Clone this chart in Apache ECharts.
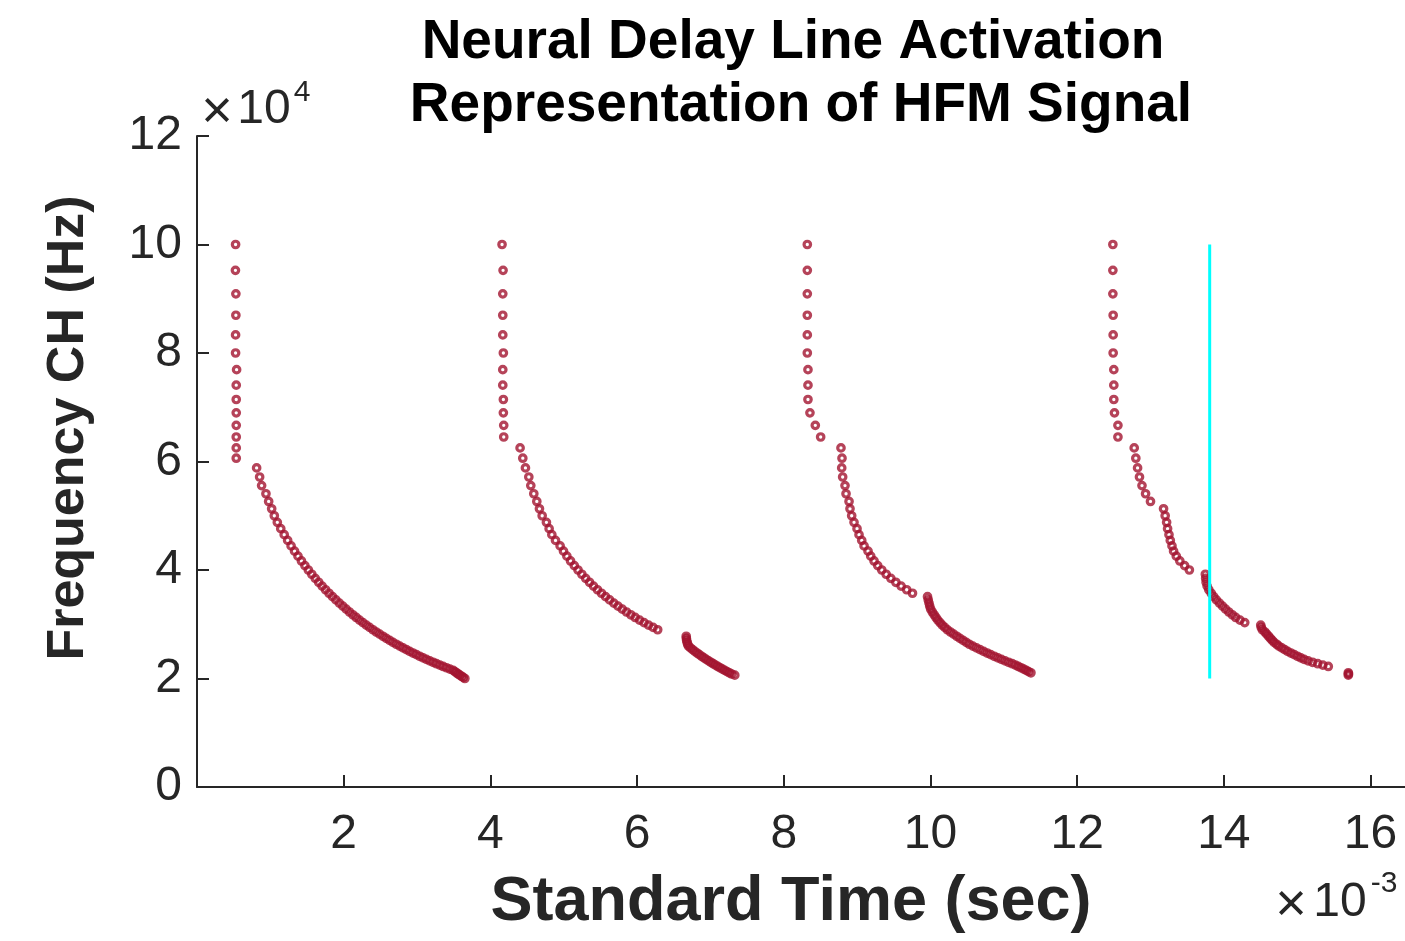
<!DOCTYPE html>
<html>
<head>
<meta charset="utf-8">
<script src="https://cdn.jsdelivr.net/npm/echarts@6/dist/echarts.min.js"></script>
<style>
html,body{margin:0;padding:0;background:#ffffff;}
#chart{width:1405px;height:941px;}
</style>
</head>
<body>
<div id="chart"></div>
<script>
// Channel centre frequencies (Hz)
const channelFreqs = [
 100000, 95238, 90909, 86957, 83333, 80000, 76923, 74074, 71429, 68966,
 66667, 64516, 62500, 60606, 58824, 57143, 55556, 54054, 52632, 51282,
 50000, 48780, 47619, 46512, 45455, 44444, 43478, 42553, 41667, 40816,
 40000, 39216, 38462, 37736, 37037, 36364, 35714, 35088, 34483, 33898,
 33333, 32787, 32258, 31746, 31250, 30769, 30303, 29851, 29412, 28986,
 28571, 28169, 27778, 27397, 27027, 26667, 26316, 25974, 25641, 25316,
 25000, 24691, 24390, 24096, 23810, 23529, 23256, 22989, 22727, 22472,
 22222, 21978, 21739, 21505, 21277, 21053, 20833, 20619, 20408, 20202,
 20000
];

// Activation time (x10^-3 s) of each channel, per pulse; null = no activation
const chirp1Times = [
 0.526, 0.524, 0.530, 0.530, 0.526, 0.526, 0.540, 0.535, 0.535, 0.535,
 0.535, 0.535, 0.535, 0.535, 0.813, 0.854, 0.881, 0.940, 0.977, 1.018,
 1.054, 1.095, 1.142, 1.189, 1.236, 1.283, 1.330, 1.377, 1.424, 1.471,
 1.518, 1.565, 1.612, 1.659, 1.706, 1.753, 1.800, 1.847, 1.894, 1.941,
 1.988, 2.034, 2.079, 2.125, 2.171, 2.216, 2.262, 2.308, 2.353, 2.399,
 2.444, 2.490, 2.536, 2.581, 2.627, 2.672, 2.718, 2.764, 2.809, 2.855,
 2.900, 2.946, 2.992, 3.037, 3.083, 3.128, 3.174, 3.220, 3.265, 3.311,
 3.356, 3.402, 3.448, 3.493, 3.516, 3.539, 3.561, 3.584, 3.607, 3.630,
 3.652
];
const chirp2Times = [
 4.159, 4.173, 4.169, 4.169, 4.169, 4.177, 4.169, 4.169, 4.177, 4.177,
 4.182, 4.182, 4.405, 4.442, 4.478, 4.524, 4.551, 4.592, 4.633, 4.669,
 4.706, 4.764, 4.801, 4.838, 4.888, 4.951, 4.997, 5.043, 5.093, 5.144,
 5.195, 5.247, 5.299, 5.352, 5.406, 5.460, 5.515, 5.570, 5.626, 5.683,
 5.740, 5.798, 5.856, 5.915, 5.974, 6.034, 6.095, 6.156, 6.218, 6.281,
 null, null, 6.670, 6.672, 6.676, 6.682, 6.690, 6.700, 6.728, 6.757,
 6.787, 6.818, 6.849, 6.880, 6.912, 6.943, 6.975, 7.006, 7.038, 7.069,
 7.101, 7.132, 7.164, 7.195, 7.227, 7.258, 7.290, 7.332, null, null,
 null
];
const chirp3Times = [
 8.321, 8.321, 8.321, 8.321, 8.321, 8.321, 8.330, 8.330, 8.330, 8.357,
 8.430, 8.503, 8.780, 8.794, 8.790, 8.803, 8.835, 8.849, 8.890, 8.903,
 8.926, 8.958, 8.999, 9.026, 9.063, 9.095, 9.149, 9.186, 9.231, 9.281,
 9.336, 9.396, 9.460, 9.528, 9.600, 9.676, 9.755, 9.960, 9.970, 9.980,
 9.990, 10.003, 10.025, 10.050, 10.075, 10.100, 10.130, 10.160, 10.195, 10.230,
 10.273, 10.316, 10.359, 10.402, 10.445, 10.488, 10.530, 10.578, 10.627, 10.676,
 10.725, 10.774, 10.822, 10.871, 10.920, 10.968, 11.017, 11.066, 11.115, 11.159,
 11.198, 11.236, 11.272, 11.306, 11.338, 11.370, null, null, null, null,
 null
];
const chirp4Times = [
 12.487, 12.487, 12.487, 12.491, 12.491, 12.491, 12.500, 12.500, 12.500, 12.509,
 12.556, 12.556, 12.778, 12.800, 12.824, 12.850, 12.884, 12.933, 13.000, 13.178,
 13.200, 13.220, 13.233, 13.252, 13.270, 13.293, 13.315, 13.352, 13.400, 13.465,
 13.530, 13.748, 13.752, 13.758, 13.772, 13.795, 13.828, 13.862, 13.898, 13.940,
 13.982, 14.024, 14.068, 14.115, 14.162, 14.220, 14.285, 14.503, 14.510, 14.525,
 14.560, 14.585, 14.610, 14.635, 14.660, 14.685, 14.720, 14.750, 14.790, 14.830,
 14.870, 14.915, 14.960, 15.005, 15.050, 15.095, 15.150, 15.210, 15.280, 15.350,
 15.424, null, null, null, null, 15.697, 15.700, 15.697, null, null,
 null
];

// Vertical cursor line
const cursorTime = [13.807, 13.807];
const cursorFreq = [20000, 100000];

// Tick values
const xTicks = [2, 4, 6, 8, 10, 12, 14, 16];
const yTicks = [0, 20000, 40000, 60000, 80000, 100000, 120000];

function pairs(times) {
  const out = [];
  times.forEach(function (t, i) { if (t !== null) out.push([t, channelFreqs[i]]); });
  return out;
}

const FONT = '"Liberation Sans", Arial, Helvetica, sans-serif';
const AXC = '#262626';
const MARK = '#A2142F';

const scatterBase = {
  type: 'scatter',
  symbol: 'circle',
  symbolSize: 6.5,
  itemStyle: { color: 'rgba(0,0,0,0)', borderColor: MARK, borderWidth: 3.2 },
  emphasis: { disabled: true },
  silent: true,
  z: 2
};

const chart = echarts.init(document.getElementById('chart'), null, { renderer: 'canvas' });
chart.setOption({
  animation: false,
  backgroundColor: '#ffffff',
  grid: { left: 197, right: 0, top: 136, bottom: 154, outerBoundsMode: 'none', containLabel: false },
  xAxis: {
    type: 'value', min: 0, max: 16.47,
    axisLine: { show: true, lineStyle: { color: AXC, width: 2 } },
    axisTick: { show: true, inside: true, length: 12, customValues: xTicks, lineStyle: { color: AXC, width: 2 } },
    axisLabel: { show: true, customValues: xTicks, fontSize: 48, fontFamily: FONT, color: AXC, margin: 24 },
    splitLine: { show: false }
  },
  yAxis: {
    type: 'value', min: 0, max: 120000,
    axisLine: { show: true, lineStyle: { color: AXC, width: 2 } },
    axisTick: { show: true, inside: true, length: 12, customValues: yTicks, lineStyle: { color: AXC, width: 2 } },
    axisLabel: { show: true, customValues: yTicks, fontSize: 48, fontFamily: FONT, color: AXC, margin: 15,
      formatter: function (v) { return String(Math.round(v / 10000)); } },
    splitLine: { show: false }
  },
  series: [
    Object.assign({}, scatterBase, { name: 'pulse1', data: pairs(chirp1Times) }),
    Object.assign({}, scatterBase, { name: 'pulse2', data: pairs(chirp2Times) }),
    Object.assign({}, scatterBase, { name: 'pulse3', data: pairs(chirp3Times) }),
    Object.assign({}, scatterBase, { name: 'pulse4', data: pairs(chirp4Times) }),
    {
      type: 'line', name: 'cursor', silent: true, z: 3,
      data: [[cursorTime[0], cursorFreq[0]], [cursorTime[1], cursorFreq[1]]],
      showSymbol: false, symbol: 'none',
      lineStyle: { color: '#00FFFF', width: 3 }
    }
  ],
  graphic: [
    { type: 'text', x: 793, y: 43, style: { text: 'Neural Delay Line Activation', font: 'bold 55px ' + FONT, fill: '#000', textAlign: 'center', textVerticalAlign: 'middle' } },
    { type: 'text', x: 801, y: 106, style: { text: 'Representation of HFM Signal', font: 'bold 55px ' + FONT, fill: '#000', textAlign: 'center', textVerticalAlign: 'middle' } },
    { type: 'text', x: 791, y: 903, style: { text: 'Standard Time (sec)', font: 'bold 63px ' + FONT, fill: AXC, textAlign: 'center', textVerticalAlign: 'middle' } },
    { type: 'text', x: 69, y: 428, rotation: Math.PI / 2, style: { text: 'Frequency CH (Hz)', font: 'bold 52px ' + FONT, fill: AXC, textAlign: 'center', textVerticalAlign: 'middle' } },
    { type: 'text', x: 217, y: 113, style: { text: '\u00d7', font: '54px ' + FONT, fill: AXC, textAlign: 'center', textVerticalAlign: 'middle' } },
    { type: 'text', x: 264, y: 110, style: { text: '10', font: '48px ' + FONT, fill: AXC, textAlign: 'center', textVerticalAlign: 'middle' } },
    { type: 'text', x: 302, y: 93, style: { text: '4', font: '30px ' + FONT, fill: AXC, textAlign: 'center', textVerticalAlign: 'middle' } },
    { type: 'text', x: 1291, y: 906, style: { text: '\u00d7', font: '54px ' + FONT, fill: AXC, textAlign: 'center', textVerticalAlign: 'middle' } },
    { type: 'text', x: 1340, y: 903, style: { text: '10', font: '48px ' + FONT, fill: AXC, textAlign: 'center', textVerticalAlign: 'middle' } },
    { type: 'text', x: 1384, y: 884, style: { text: '-3', font: '30px ' + FONT, fill: AXC, textAlign: 'center', textVerticalAlign: 'middle' } }
  ]
});
</script>
</body>
</html>
